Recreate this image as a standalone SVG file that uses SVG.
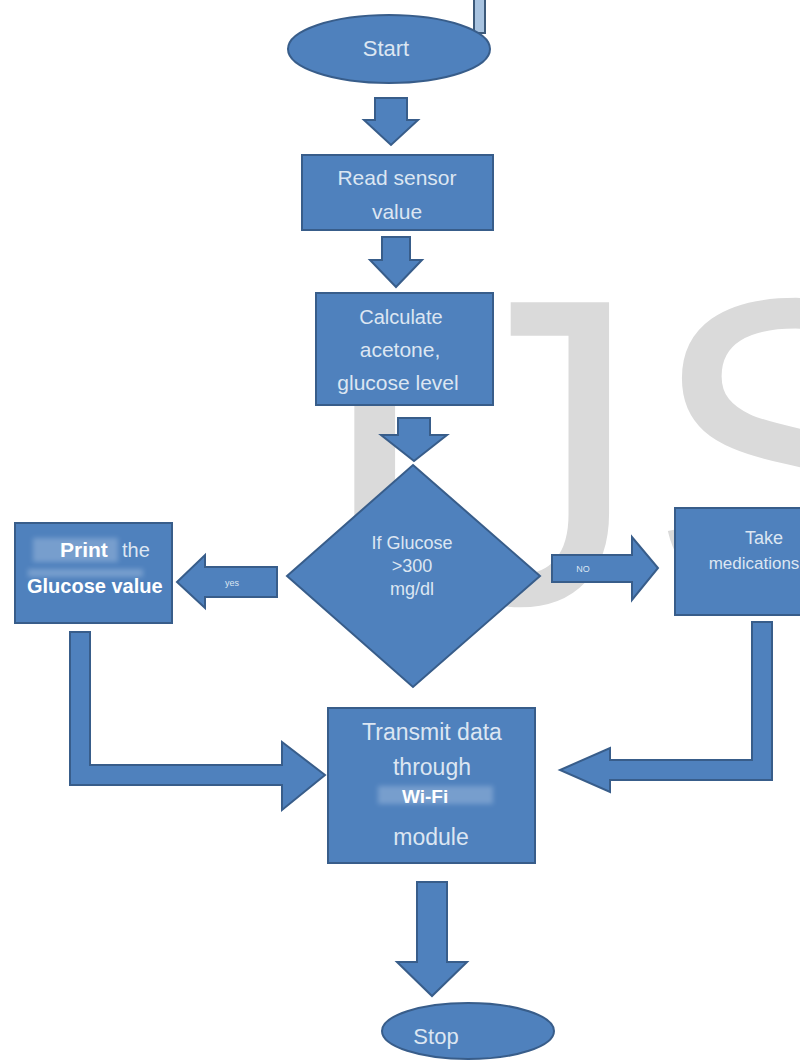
<svg xmlns="http://www.w3.org/2000/svg" width="800" height="1061" viewBox="0 0 800 1061">
<style>
.shape{fill:#4f81bd;stroke:#385d8a;stroke-width:2;stroke-linejoin:miter}
.lbl{font-family:"Liberation Sans",Arial,sans-serif;fill:#dce6f2;text-anchor:middle}
.lbls{font-family:"Liberation Sans",Arial,sans-serif;fill:#dce6f2;text-anchor:start}
.bold{font-family:"Liberation Sans",Arial,sans-serif;font-weight:bold;fill:#ffffff;text-anchor:start}
.small{font-family:"Liberation Sans",Arial,sans-serif;fill:#dce6f2;text-anchor:middle;font-size:9px}
.wm{font-family:"Liberation Sans",Arial,sans-serif;font-size:437px;fill:#dadada}
.smudge{fill:#a9c2e2;opacity:0.45}
</style>
<defs>
<filter id="blur" x="-20%" y="-50%" width="140%" height="200%"><feGaussianBlur stdDeviation="2.5"/></filter>
</defs>
<rect width="800" height="1061" fill="#ffffff"/>

<g id="watermark">
<text class="wm" x="314" y="603">I</text>
<text class="wm" x="423" y="603">J</text>
<text class="wm" x="648" y="603">S</text>
</g>

<rect x="474" y="-2" width="11" height="35" fill="#a8c3e0" stroke="#3d5a7a" stroke-width="2"/>

<g id="connectors">
<polygon class="shape" points="375,98 407,98 407,120 418,120 391,145 364,120 375,120"/>
<polygon class="shape" points="382,237 410,237 410,260 422,260 396,287 370,260 382,260"/>
<polygon class="shape" points="398,418 430,418 430,435 447,435 414,461 381,435 398,435"/>
<polygon class="shape" points="277,567 205,567 205,555 177,582 205,608 205,597 277,597"/>
<text class="small" x="232" y="586">yes</text>
<polygon class="shape" points="552,555 632,555 632,537 658,568 632,600 632,582 552,582"/>
<text class="small" x="583" y="572">NO</text>
<polygon class="shape" points="70,632 90,632 90,765 282,765 282,742 325,775 282,810 282,785 70,785"/>
<polygon class="shape" points="752,622 772,622 772,780 610,780 610,792 560,770 610,748 610,760 752,760"/>
<polygon class="shape" points="417,882 447,882 447,962 467,962 432,996 397,962 417,962"/>
</g>

<g id="start">
<ellipse class="shape" cx="389" cy="49" rx="101" ry="34"/>
<text class="lbl" x="386" y="56" font-size="22">Start</text>
</g>

<g id="read-sensor">
<rect class="shape" x="302" y="155" width="191" height="75"/>
<text class="lbl" x="397" y="185" font-size="21">Read sensor</text>
<text class="lbl" x="397" y="219" font-size="21">value</text>
</g>

<g id="calculate">
<rect class="shape" x="316" y="293" width="177" height="112"/>
<text class="lbl" x="401" y="324" font-size="20">Calculate</text>
<text class="lbl" x="400" y="357" font-size="21">acetone,</text>
<text class="lbl" x="398" y="390" font-size="21">glucose level</text>
</g>

<g id="decision">
<polygon class="shape" points="413,465 540,576 413,687 287,576"/>
<text class="lbl" x="412" y="549" font-size="18">If Glucose</text>
<text class="lbl" x="412" y="572" font-size="18">&gt;300</text>
<text class="lbl" x="412" y="595" font-size="18">mg/dl</text>
</g>

<g id="print">
<rect class="shape" x="15" y="523" width="157" height="100"/>
<rect class="smudge" x="33" y="538" width="85" height="24" filter="url(#blur)"/>
<rect class="smudge" x="28" y="569" width="115" height="8" opacity="0.25" filter="url(#blur)"/>
<text class="bold" x="60" y="557" font-size="21">Print</text>
<text class="lbls" x="122" y="557" font-size="20">the</text>
<text class="bold" x="27" y="593" font-size="20">Glucose value</text>
</g>

<g id="medications">
<rect class="shape" x="675" y="508" width="127" height="107"/>
<text class="lbl" x="764" y="544" font-size="18">Take</text>
<text class="lbl" x="754" y="569" font-size="17">medications</text>
</g>

<g id="transmit">
<rect class="shape" x="328" y="708" width="207" height="155"/>
<rect class="smudge" x="378" y="786" width="115" height="18" opacity="0.35" filter="url(#blur)"/>
<text class="lbl" x="432" y="740" font-size="23">Transmit data</text>
<text class="lbl" x="432" y="775" font-size="23">through</text>
<text class="bold" x="402" y="803" font-size="19">Wi-Fi</text>
<text class="lbl" x="431" y="845" font-size="23">module</text>
</g>

<g id="stop">
<ellipse class="shape" cx="468" cy="1031" rx="86" ry="28"/>
<text class="lbl" x="436" y="1044" font-size="22">Stop</text>
</g>
</svg>
